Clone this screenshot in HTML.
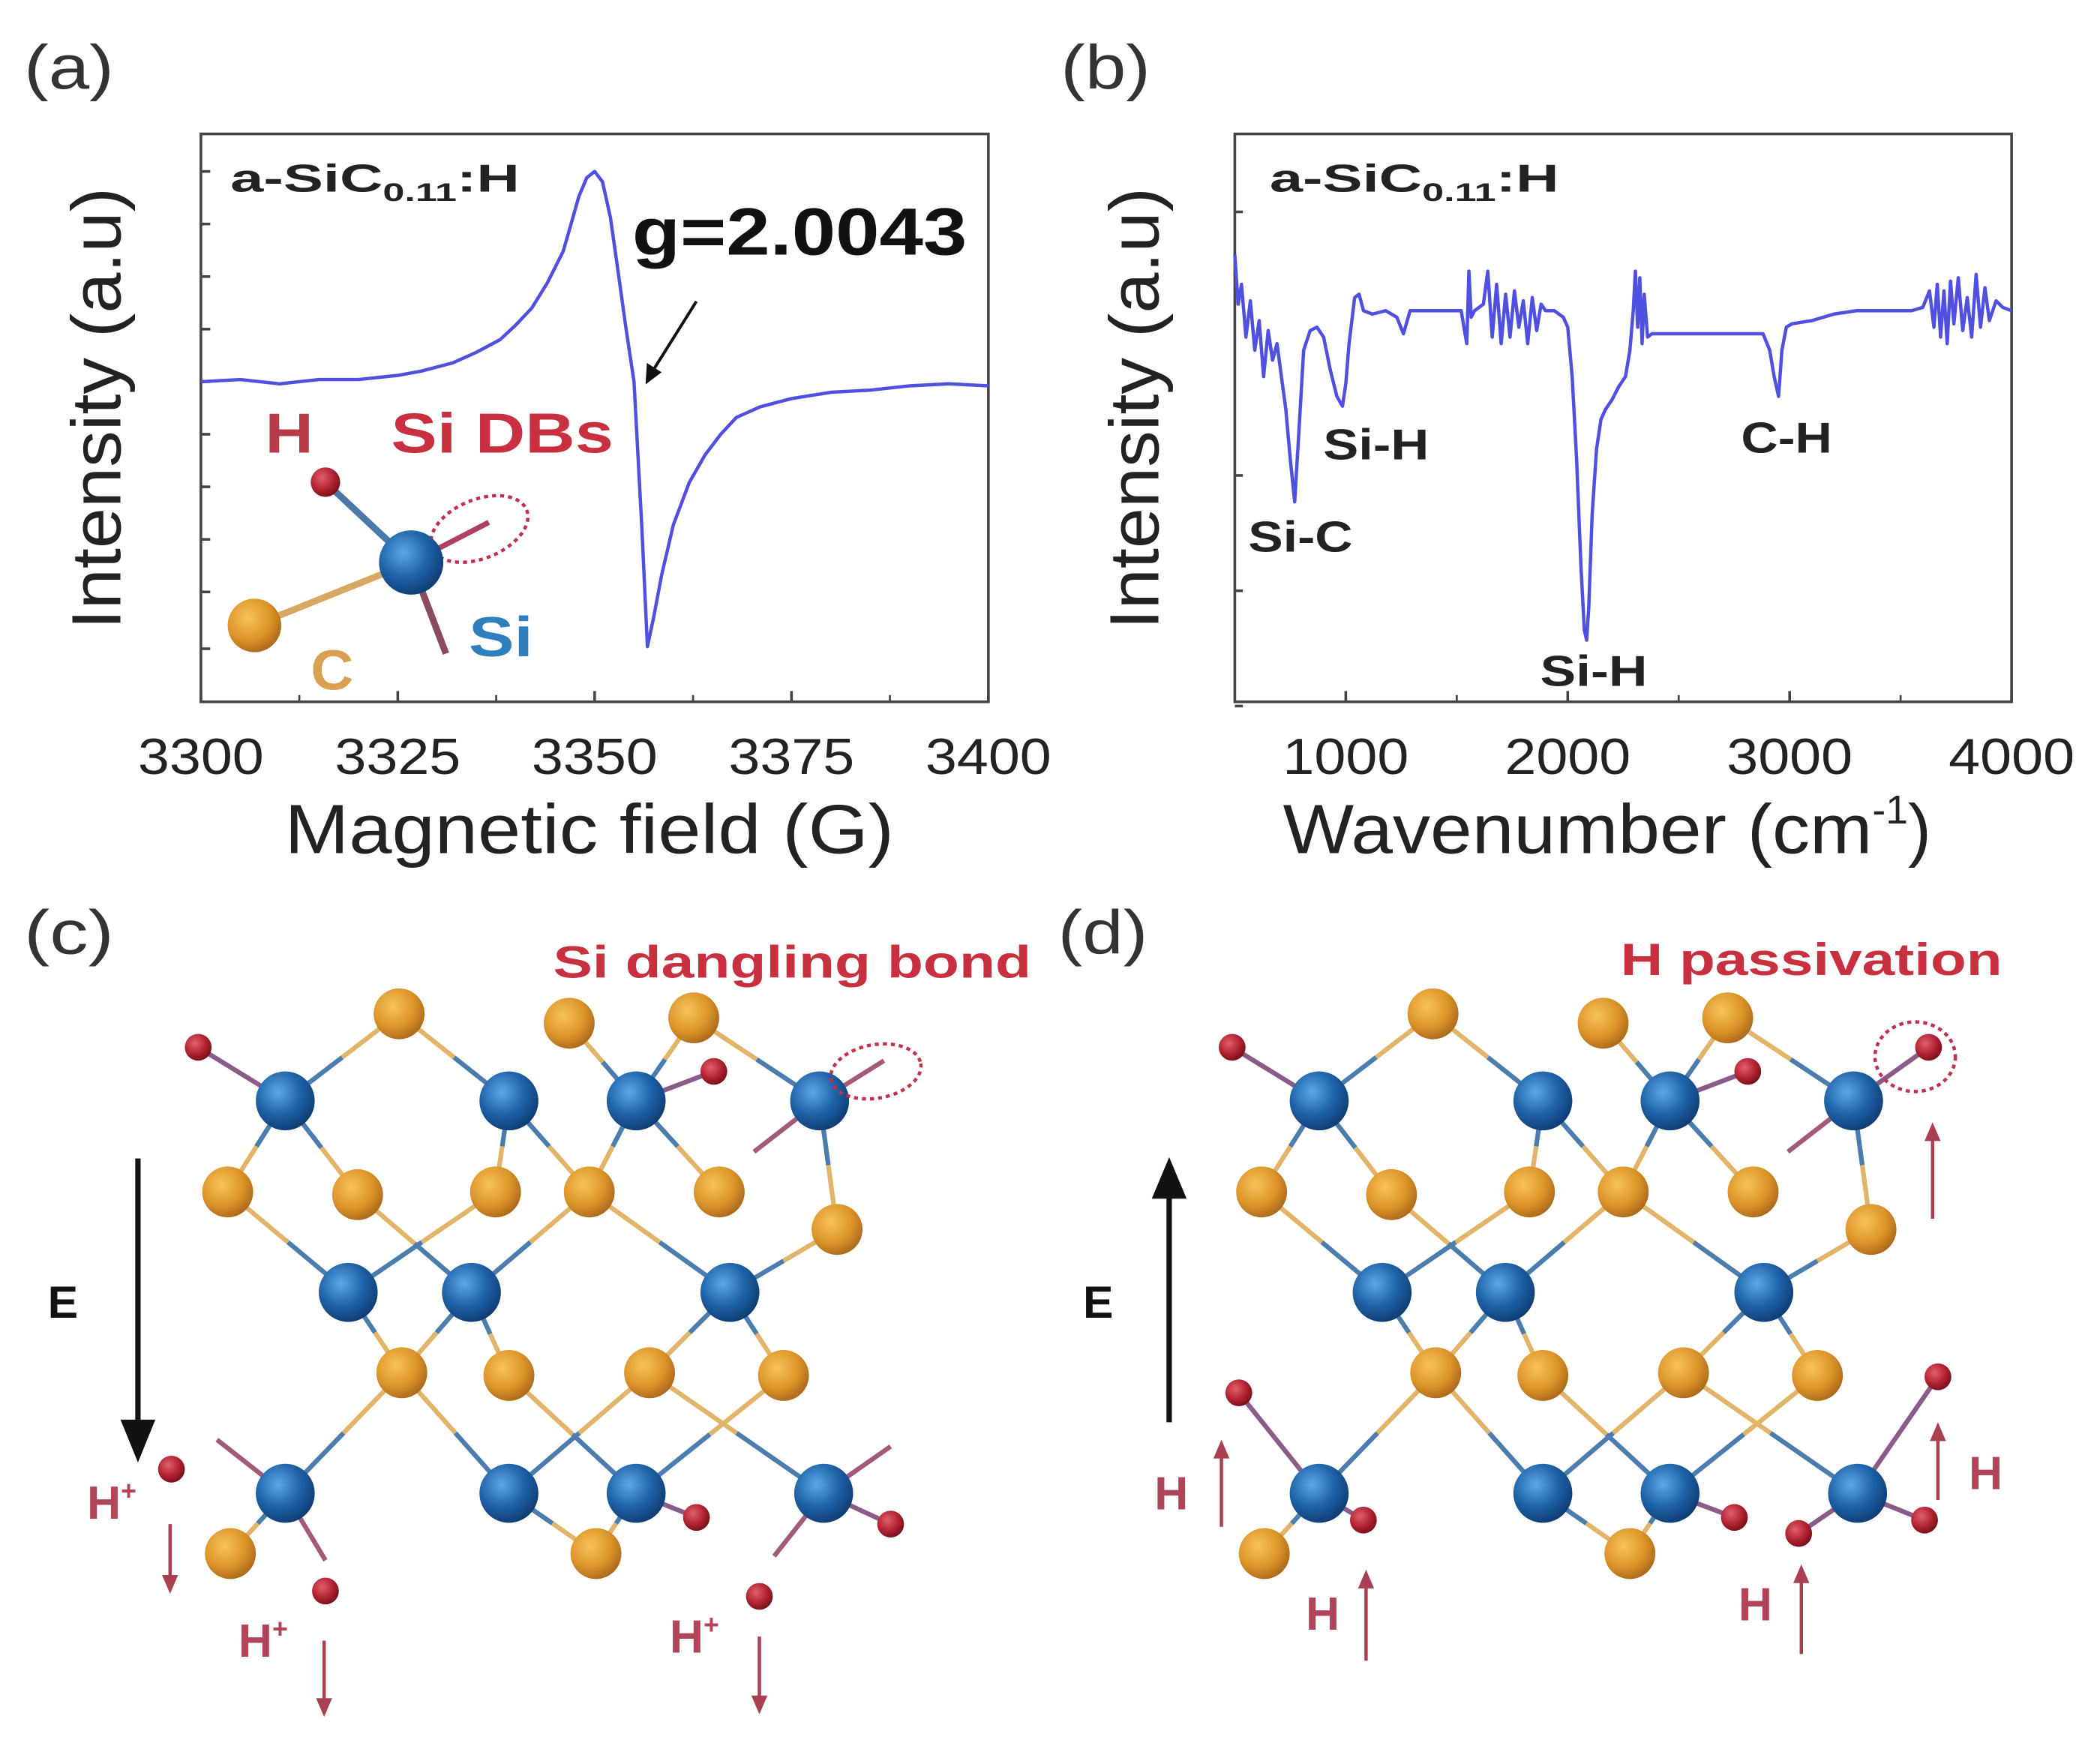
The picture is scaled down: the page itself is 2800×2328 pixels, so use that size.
<!DOCTYPE html>
<html><head><meta charset="utf-8">
<style>
html,body{margin:0;padding:0;background:#fff;overflow:hidden;}
svg{display:block;font-family:"Liberation Sans",Arial,sans-serif;}
</style></head>
<body>
<svg id="fig" width="2800" height="2328" viewBox="0 0 2800 2328" xmlns="http://www.w3.org/2000/svg">
<defs>
<radialGradient id="gSi" cx="0.38" cy="0.35" r="0.7"><stop offset="0" stop-color="#5aa8e8"/><stop offset="0.55" stop-color="#1f62a8"/><stop offset="1" stop-color="#0d3a70"/></radialGradient>
<radialGradient id="gC" cx="0.38" cy="0.35" r="0.7"><stop offset="0" stop-color="#f7c35a"/><stop offset="0.6" stop-color="#dc9428"/><stop offset="1" stop-color="#a8661a"/></radialGradient>
<radialGradient id="gH" cx="0.38" cy="0.35" r="0.7"><stop offset="0" stop-color="#e0606a"/><stop offset="0.6" stop-color="#b02030"/><stop offset="1" stop-color="#701018"/></radialGradient>
</defs>
<g transform="scale(1.7857)">

<!-- Panel a -->
<g id="pa">
  <text x="18" y="66" font-size="46" fill="#333" textLength="67" lengthAdjust="spacingAndGlyphs">(a)</text>
  <rect x="150" y="100" width="588" height="424" fill="none" stroke="#444" stroke-width="2"/>
  <g id="aTicks"></g>
  <path id="aLine" fill="none" stroke="#4f4fe0" stroke-width="2.5" stroke-linejoin="round"/>
  <text x="172" y="143" font-size="29" font-weight="bold" fill="#222" textLength="216" lengthAdjust="spacingAndGlyphs">a-SiC<tspan font-size="19" dy="7">0.11</tspan><tspan dy="-7">:H</tspan></text>
  <text x="472" y="190" font-size="50" font-weight="bold" fill="#111" textLength="250" lengthAdjust="spacingAndGlyphs">g=2.0043</text>
  <line x1="520" y1="225" x2="488" y2="276" stroke="#111" stroke-width="2.2"/>
  <path d="M482,287 L483,271 L494,278 z" fill="#111"/>
  <text x="198" y="338" font-size="42" font-weight="bold" fill="#b83a48" textLength="36" lengthAdjust="spacingAndGlyphs">H</text>
  <text x="292" y="338" font-size="42" font-weight="bold" fill="#c8303f" textLength="166" lengthAdjust="spacingAndGlyphs">Si DBs</text>
  <line x1="307" y1="420" x2="243" y2="360" stroke="#4a78a8" stroke-width="5"/>
  <line x1="307" y1="420" x2="190" y2="467" stroke="#d8a860" stroke-width="5"/>
  <line x1="307" y1="420" x2="333" y2="488" stroke="#8a4a60" stroke-width="5"/>
  <line x1="307" y1="420" x2="365" y2="390" stroke="#b04060" stroke-width="4"/>
  <ellipse cx="358" cy="395" rx="38" ry="22" transform="rotate(-22 358 395)" fill="none" stroke="#c0304a" stroke-width="2.5" stroke-dasharray="3 3"/>
  <circle cx="243" cy="360" r="11" fill="url(#gH)"/>
  <circle cx="190" cy="467" r="20" fill="url(#gC)"/>
  <circle cx="307" cy="420" r="24" fill="url(#gSi)"/>
  <text x="350" y="490" font-size="42" font-weight="bold" fill="#2f7fbf" textLength="48" lengthAdjust="spacingAndGlyphs">Si</text>
  <text x="232" y="515" font-size="42" font-weight="bold" fill="#d8a050" textLength="32" lengthAdjust="spacingAndGlyphs">C</text>
  <text transform="translate(90,305) rotate(-90)" text-anchor="middle" font-size="52" fill="#222" textLength="330" lengthAdjust="spacingAndGlyphs">Intensity (a.u)</text>
  <text x="440" y="637" text-anchor="middle" font-size="52" fill="#222" textLength="455" lengthAdjust="spacingAndGlyphs">Magnetic field (G)</text>
</g>

<!-- Panel b -->
<g id="pb">
  <text x="792" y="66" font-size="46" fill="#333" textLength="67" lengthAdjust="spacingAndGlyphs">(b)</text>
  <rect x="922" y="100" width="580" height="424" fill="none" stroke="#444" stroke-width="2"/>
  <g id="bTicks"></g>
  <path id="bLine" fill="none" stroke="#4f4fe0" stroke-width="2.5" stroke-linejoin="round"/>
  <text x="948" y="143" font-size="29" font-weight="bold" fill="#222" textLength="216" lengthAdjust="spacingAndGlyphs">a-SiC<tspan font-size="19" dy="7">0.11</tspan><tspan dy="-7">:H</tspan></text>
  <text x="988" y="343" font-size="32" font-weight="bold" fill="#222" textLength="79" lengthAdjust="spacingAndGlyphs">Si-H</text>
  <text x="932" y="412" font-size="32" font-weight="bold" fill="#222" textLength="78" lengthAdjust="spacingAndGlyphs">Si-C</text>
  <text x="1150" y="512" font-size="32" font-weight="bold" fill="#222" textLength="80" lengthAdjust="spacingAndGlyphs">Si-H</text>
  <text x="1300" y="338" font-size="32" font-weight="bold" fill="#222" textLength="68" lengthAdjust="spacingAndGlyphs">C-H</text>
  <text transform="translate(865,305) rotate(-90)" text-anchor="middle" font-size="52" fill="#222" textLength="330" lengthAdjust="spacingAndGlyphs">Intensity (a.u)</text>
  <text x="958" y="637" font-size="52" fill="#222"><tspan textLength="440" lengthAdjust="spacingAndGlyphs">Wavenumber (cm</tspan><tspan font-size="30" dy="-22">-1</tspan><tspan dy="22">)</tspan></text>
</g>

<!-- Panel c -->
<g id="pc">
  <text x="18" y="712" font-size="46" fill="#333" textLength="67" lengthAdjust="spacingAndGlyphs">(c)</text>
  <text x="413" y="730" font-size="34" font-weight="bold" fill="#c8303f" textLength="357" lengthAdjust="spacingAndGlyphs">Si dangling bond</text>
  <g id="latC"></g>
  <ellipse cx="654" cy="800" rx="34" ry="20" transform="rotate(-10 654 800)" fill="none" stroke="#c0304a" stroke-width="2.5" stroke-dasharray="3 3"/>
  <line x1="103" y1="865" x2="103" y2="1065" stroke="#111" stroke-width="4"/>
  <path d="M90,1060 L116,1060 L103,1092 z" fill="#111"/>
  <text x="47" y="984" text-anchor="middle" font-size="34" font-weight="bold" fill="#111">E</text>
  <g id="hpC"></g>
</g>

<!-- Panel d -->
<g id="pd">
  <text x="790" y="712" font-size="46" fill="#333" textLength="67" lengthAdjust="spacingAndGlyphs">(d)</text>
  <text x="1210" y="728" font-size="34" font-weight="bold" fill="#c8303f" textLength="285" lengthAdjust="spacingAndGlyphs">H passivation</text>
  <g id="latD"></g>
  <ellipse cx="1430" cy="789" rx="30" ry="26" fill="none" stroke="#c0304a" stroke-width="2.5" stroke-dasharray="3 3"/>
  <line x1="873" y1="1062" x2="873" y2="890" stroke="#111" stroke-width="4"/>
  <path d="M860,895 L886,895 L873,864 z" fill="#111"/>
  <text x="820" y="984" text-anchor="middle" font-size="34" font-weight="bold" fill="#111">E</text>
  <g id="hpD"></g>
</g>
</g>
</svg>

<script>
// ===== Panel (a) EPR data =====
const eprField = [3300,3305,3310,3315,3320,3325,3328,3332,3335,3338,3340,3342,3344,3346,3347,3348,3349,3350,3351,3352,3353,3354,3355,3356,3356.7,3357.5,3358.5,3360,3362,3364,3366,3368,3371,3375,3380,3385,3390,3395,3400];
const eprIntensity = [0,0.01,-0.01,0.01,0.01,0.03,0.05,0.09,0.14,0.2,0.27,0.35,0.47,0.62,0.75,0.88,0.97,1.0,0.95,0.78,0.52,0.25,0.0,-0.7,-1.26,-1.12,-0.92,-0.68,-0.48,-0.35,-0.25,-0.17,-0.12,-0.08,-0.05,-0.04,-0.02,-0.01,-0.02];
const eprXTicks = [3300,3325,3350,3375,3400];
const eprXMinor = [3312.5,3337.5,3362.5,3387.5];
const eprYTicks = [1.0,0.75,0.5,0.25,0,-0.25,-0.5,-0.75,-1.0,-1.27];

// ===== Panel (b) FTIR data =====
const ftirWave = [500,515,530,550,570,590,610,630,650,670,690,710,730,750,770,790,810,840,870,900,930,960,985,1000,1015,1040,1060,1080,1120,1180,1230,1260,1290,1350,1450,1520,1545,1555,1565,1580,1620,1640,1660,1680,1700,1720,1740,1760,1780,1800,1820,1840,1860,1880,1900,1940,1980,2000,2020,2040,2060,2075,2085,2095,2110,2130,2150,2170,2200,2230,2260,2280,2295,2305,2315,2325,2335,2345,2360,2380,2450,2600,2800,2880,2910,2930,2950,2965,2985,3010,3100,3200,3300,3450,3550,3600,3630,3650,3665,3680,3695,3710,3725,3740,3760,3780,3800,3820,3840,3860,3880,3900,3930,3960,4000];
const ftirAbs = [0.17,0.02,0.08,-0.08,0.03,-0.12,-0.03,-0.2,-0.06,-0.15,-0.1,-0.2,-0.3,-0.45,-0.58,-0.35,-0.12,-0.06,-0.05,-0.08,-0.18,-0.26,-0.29,-0.22,-0.1,0.04,0.05,0.0,-0.01,0.0,-0.02,-0.07,0.0,0.0,0.0,0.0,-0.1,0.12,-0.02,0.0,0.02,0.12,-0.08,0.08,-0.1,0.05,-0.08,0.06,-0.05,0.03,-0.1,0.04,-0.06,0.02,0.0,0.0,-0.02,-0.05,-0.2,-0.45,-0.78,-0.97,-1.0,-0.9,-0.62,-0.42,-0.33,-0.3,-0.27,-0.23,-0.2,-0.12,0.0,0.12,-0.05,0.1,-0.1,0.05,-0.08,-0.07,-0.07,-0.07,-0.07,-0.07,-0.12,-0.2,-0.26,-0.12,-0.05,-0.04,-0.03,-0.01,0.0,0.0,0.0,0.01,0.06,-0.05,0.08,-0.08,0.06,-0.1,0.09,-0.04,0.1,-0.06,0.04,-0.08,0.11,-0.05,0.07,-0.03,0.03,0.01,0.0];
const ftirXTicks = [1000,2000,3000,4000];
const ftirXMinor = [1500,2500,3500];
const ftirYTicks = [0.3,-0.5,-0.85,-1.2];

const NS = "http://www.w3.org/2000/svg";
function mk(tag, attrs, parent){ const e=document.createElementNS(NS,tag); for(const k in attrs) e.setAttribute(k,attrs[k]); parent.appendChild(e); return e; }

// axis functions
const ax = v => 150 + (v-3300)/100*588;
const ay = v => 285 - v*157;
const bx = v => 922 + (v-500)/3500*580;
const by = v => 232 - v*246;

// Panel a
let d = eprField.map((f,i)=>(i?'L':'M')+ax(f).toFixed(1)+','+ay(eprIntensity[i]).toFixed(1)).join(' ');
document.getElementById('aLine').setAttribute('d', d);
const aT = document.getElementById('aTicks');
eprXTicks.forEach(t=>{
  const l = mk('line',{x1:ax(t),x2:ax(t),y1:524,y2:516,stroke:'#444','stroke-width':2},aT);
  
  
  const tx = mk('text',{x:ax(t),y:578,'text-anchor':'middle','font-size':38,fill:'#222',textLength:94,lengthAdjust:'spacingAndGlyphs'},aT);
  tx.textContent = t;
  
  
});
eprXMinor.forEach(t=>{ mk('line',{x1:ax(t),x2:ax(t),y1:524,y2:519,stroke:'#444','stroke-width':1.5},aT); });
eprYTicks.forEach(t=>{ mk('line',{x1:150,x2:157,y1:ay(t),y2:ay(t),stroke:'#444','stroke-width':2},aT); });

// Panel b
d = ftirWave.map((f,i)=>(i?'L':'M')+bx(f).toFixed(1)+','+by(ftirAbs[i]).toFixed(1)).join(' ');
document.getElementById('bLine').setAttribute('d', d);
const bT = document.getElementById('bTicks');
ftirXTicks.forEach(t=>{
  const l = mk('line',{x1:bx(t),x2:bx(t),y1:524,y2:516,stroke:'#444','stroke-width':2},bT);
  
  
  const tx = mk('text',{x:bx(t),y:578,'text-anchor':'middle','font-size':38,fill:'#222',textLength:94,lengthAdjust:'spacingAndGlyphs'},bT);
  tx.textContent = t;
  
  
});
ftirXMinor.forEach(t=>{ mk('line',{x1:bx(t),x2:bx(t),y1:524,y2:519,stroke:'#444','stroke-width':1.5},bT); });
ftirYTicks.forEach(t=>{ mk('line',{x1:922,x2:928,y1:by(t),y2:by(t),stroke:'#444','stroke-width':2},bT); });

// ===== Lattice (illustration) =====
const C = [[298,757],[425,764],[518,760],[170,890],[267,892],[370,890],[440,890],[537,890],[625,918],[300,1025],[380,1027],[485,1025],[585,1027],[172,1160],[445,1160]];
const S = [[213,822],[380,822],[475,822],[612,822],[260,965],[352,965],[545,965],[213,1115],[380,1115],[475,1115],[615,1115]];
const bonds = [[S[0],C[0]],[C[0],S[1]],[S[1],C[5]],[S[0],C[3]],[S[0],C[4]],[C[1],S[2]],[C[2],S[2]],[S[2],C[6]],[S[2],C[7]],[C[2],S[3]],[S[3],C[8]],
 [C[3],S[4]],[C[4],S[5]],[C[5],S[4]],[C[6],S[5]],[C[6],S[6]],[C[8],S[6]],[S[1],C[6]],[S[4],C[9]],[S[5],C[9]],[S[5],C[10]],[S[6],C[11]],[S[6],C[12]],
 [C[9],S[7]],[C[9],S[8]],[C[10],S[9]],[C[11],S[8]],[C[11],S[10]],[C[12],S[9]],[S[7],C[13]],[S[8],C[14]],[S[9],C[14]]];
function lattice(g, dx, hs, stubs){
  bonds.forEach(b=>{
    const [p,q]=b; const sp = S.includes(p)?p:q, cp = sp===p?q:p;
    const mx=(p[0]+q[0])/2+dx, my=(p[1]+q[1])/2;
    mk('line',{x1:sp[0]+dx,y1:sp[1],x2:mx,y2:my,stroke:'#4a7cae','stroke-width':3.5},g);
    mk('line',{x1:mx,y1:my,x2:cp[0]+dx,y2:cp[1],stroke:'#e2b46a','stroke-width':3.5},g);
  });
  stubs.forEach(s=>{ mk('line',{x1:s[0]+dx,y1:s[1],x2:s[2]+dx,y2:s[3],stroke:'#a25a78','stroke-width':3.5},g); });
  hs.forEach(h=>{ if(h[2]) mk('line',{x1:h[2][0]+dx,y1:h[2][1],x2:h[0]+dx,y2:h[1],stroke:'#8a5a88','stroke-width':3.5},g); });
  C.forEach(c=>{ const e=mk('circle',{cx:c[0]+dx,cy:c[1],r:19,fill:'url(#gC)'},g);
    
     });
  S.forEach(s=>{ const e=mk('circle',{cx:s[0]+dx,cy:s[1],r:22,fill:'url(#gSi)'},g);
    
     });
  hs.forEach(h=>{ const e=mk('circle',{cx:h[0]+dx,cy:h[1],r:10,fill:'url(#gH)'},g);
    
     });
}
function redArrow(g,x,y1,y2){
  const dir = y2>y1?1:-1;
  mk('line',{x1:x,y1:y1,x2:x,y2:y2-dir*10,stroke:'#a84050','stroke-width':2.5},g);
  mk('path',{d:`M${x-6},${y2-dir*14} L${x+6},${y2-dir*14} L${x},${y2} z`,fill:'#a84050'},g);
}
function redText(g,x,y,t,sup){
  const e=mk('text',{x:x,y:y,'font-size':35,'font-weight':'bold',fill:'#b04458'},g);
  e.textContent=t;
  if(sup){ const s=mk('tspan',{'font-size':20,dy:-14},e); s.textContent='+'; }
  
  
}
// panel c
const gC = document.getElementById('latC');
lattice(gC,0,[[148,782,S[0]],[533,800,S[2]],[520,1133,S[9]],[665,1138,S[10]]],
  [[612,822,660,792],[612,822,563,860],[213,1115,162,1075],[213,1115,243,1165],[615,1115,665,1080],[615,1115,578,1162]]);
const hc = document.getElementById('hpC');
[[128,1097],[243,1188],[567,1192]].forEach(h=>{ mk('circle',{cx:h[0],cy:h[1],r:10,fill:'url(#gH)'},hc); });
redText(hc,65,1134,'H',true); redArrow(hc,127,1138,1190);
redText(hc,178,1237,'H',true); redArrow(hc,242,1225,1282);
redText(hc,500,1234,'H',true); redArrow(hc,567,1222,1280);
// panel d
const gD = document.getElementById('latD');
const dxD = 772;
lattice(gD,dxD,[[148,782,S[0]],[533,800,S[2]],[523,1133,S[9]],[665,1135,S[10]],[668,782,S[3]],[153,1040,S[7]],[246,1135,S[7]],[571,1145,S[10]],[675,1028,S[10]]],
  [[612,822,563,860]]);
const hd = document.getElementById('hpD');
redArrow(hd,1443,910,838);
redText(hd,862,1127,'H',false); redArrow(hd,912,1140,1075);
redText(hd,975,1217,'H',false); redArrow(hd,1020,1240,1172);
redText(hd,1298,1210,'H',false); redArrow(hd,1345,1235,1168);
redText(hd,1470,1112,'H',false); redArrow(hd,1447,1120,1062);
</script>
</body></html>
